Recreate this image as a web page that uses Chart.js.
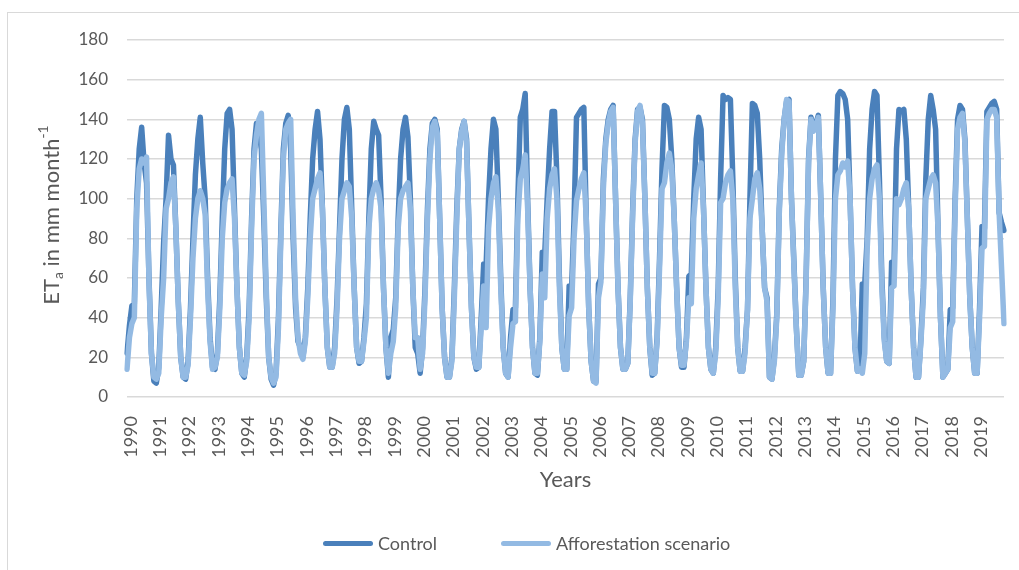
<!DOCTYPE html>
<html>
<head>
<meta charset="utf-8">
<script src="https://cdn.jsdelivr.net/npm/chart.js@4"></script>
<style>
  html, body { margin: 0; padding: 0; background: #fff; overflow: hidden; }
  #wrap { position: relative; width: 1019px; height: 570px; }
  #frame { position: absolute; left: 7px; top: 12px; width: 1030px; height: 600px; border: 1px solid #d9d9d9; box-sizing: border-box; }
  canvas { position: absolute; left: 0; top: 0; }
  #legend { position: absolute; left: 323px; top: 530px; height: 26px; display: flex; align-items: center;
            font-family: Lato, "Open Sans", sans-serif; font-size: 18px; color: #595959; white-space: nowrap; }
  #legend .item { display: flex; align-items: center; }
  #legend .swatch { display: inline-block; width: 50px; height: 5px; border-radius: 3px; margin-right: 5px; }
</style>
</head>
<body>
<div id="wrap">
  <div id="frame"></div>
  <canvas id="etChart" width="1019" height="570"></canvas>
  <div id="legend"></div>
</div>
<script>
// monthly ETa (mm/month), Jan..Dec for each year 1990-2019
var years = [1990, 1991, 1992, 1993, 1994, 1995, 1996, 1997, 1998, 1999,
             2000, 2001, 2002, 2003, 2004, 2005, 2006, 2007, 2008, 2009,
             2010, 2011, 2012, 2013, 2014, 2015, 2016, 2017, 2018, 2019];

var control = [
  22, 36, 46, 47, 100, 125, 136, 118, 108, 60, 22, 8,
  7, 15, 45, 78, 100, 132, 120, 117, 85, 48, 20, 10,
  9, 18, 45, 80, 112, 130, 141, 118, 100, 60, 30, 15,
  14, 22, 50, 90, 125, 143, 145, 135, 95, 55, 25, 12,
  10, 20, 45, 90, 125, 138, 135, 125, 90, 50, 20, 9,
  6, 12, 40, 85, 125, 138, 142, 125, 80, 45, 28, 25,
  20, 30, 55, 90, 120, 135, 144, 130, 95, 55, 25, 15,
  15, 25, 50, 85, 120, 140, 146, 135, 95, 55, 25, 17,
  18, 30, 47, 90, 125, 139, 135, 132, 100, 55, 25, 10,
  30, 34, 50, 90, 120, 135, 141, 131, 100, 55, 25, 22,
  12, 25, 55, 95, 125, 138, 140, 135, 90, 45, 20, 10,
  10, 20, 55, 95, 125, 135, 139, 130, 85, 45, 20, 14,
  15, 40, 67, 66, 100, 125, 140, 135, 100, 60, 25, 12,
  10, 30, 44, 45, 100, 141, 145, 153, 100, 55, 25, 12,
  11, 30, 73, 72, 100, 125, 144, 144, 110, 60, 25, 14,
  14, 56, 55, 90, 141, 143, 145, 146, 90, 45, 18, 8,
  8, 57, 60, 110, 130, 140, 145, 147, 100, 55, 25, 14,
  14, 17, 50, 95, 130, 145, 146, 140, 100, 55, 25, 11,
  12, 30, 70, 115, 147, 146, 140, 120, 90, 55, 25, 15,
  15, 30, 61, 62, 100, 130, 141, 135, 95, 55, 25, 14,
  12, 25, 55, 110, 152, 150, 151, 150, 110, 60, 25, 13,
  13, 25, 44, 100, 148, 147, 143, 120, 85, 55, 50, 10,
  9, 20, 42, 95, 125, 140, 149, 150, 100, 68, 35, 11,
  11, 18, 60, 120, 141, 135, 138, 142, 100, 55, 25, 12,
  12, 50, 120, 152, 154, 153, 150, 140, 100, 55, 25, 13,
  14, 57, 57, 80, 125, 145, 154, 152, 110, 60, 30, 18,
  17, 68, 67, 125, 145, 144, 145, 130, 95, 55, 25, 10,
  10, 30, 55, 110, 140, 152, 145, 135, 85, 40, 10, 12,
  14, 44, 45, 100, 140, 147, 145, 130, 90, 50, 25, 12,
  12, 45, 86, 85, 144, 146, 148, 149, 145, 93, 88, 84
];

var afforestation = [
  14, 30, 37, 40, 95, 115, 120, 118, 121, 58, 22, 10,
  9, 12, 40, 60, 95, 100, 108, 111, 85, 48, 20, 10,
  10, 16, 40, 70, 90, 100, 104, 100, 92, 55, 28, 14,
  15, 20, 45, 80, 98, 105, 108, 110, 90, 55, 25, 12,
  11, 18, 40, 85, 120, 132, 140, 143, 100, 55, 20, 10,
  7, 10, 35, 80, 120, 135, 138, 140, 90, 50, 30, 22,
  19, 28, 50, 80, 100, 105, 110, 113, 95, 55, 25, 15,
  15, 22, 45, 80, 100, 104, 108, 106, 90, 55, 25, 18,
  18, 28, 40, 85, 100, 105, 108, 104, 95, 55, 25, 12,
  22, 28, 45, 85, 100, 104, 106, 108, 95, 55, 30, 30,
  14, 22, 50, 90, 120, 136, 139, 133, 90, 45, 20, 10,
  10, 18, 50, 90, 125, 134, 139, 128, 85, 45, 20, 15,
  15, 35, 56, 35, 85, 100, 108, 111, 95, 55, 25, 12,
  10, 25, 37, 38, 90, 110, 115, 122, 95, 55, 25, 12,
  12, 28, 62, 50, 90, 105, 112, 115, 100, 55, 25, 14,
  14, 41, 45, 80, 99, 105, 110, 113, 90, 45, 18, 8,
  7, 50, 58, 105, 128, 138, 144, 146, 100, 55, 25, 14,
  14, 17, 48, 92, 128, 144, 147, 138, 100, 55, 25, 12,
  12, 28, 65, 105, 108, 118, 123, 115, 90, 55, 25, 16,
  16, 28, 50, 47, 90, 105, 112, 118, 95, 55, 25, 14,
  12, 22, 50, 98, 100, 108, 112, 114, 100, 55, 25, 13,
  13, 22, 44, 90, 100, 110, 113, 105, 85, 55, 48, 10,
  9, 18, 40, 92, 122, 140, 150, 149, 100, 66, 35, 11,
  11, 18, 58, 118, 140, 134, 137, 141, 100, 55, 25, 12,
  12, 45, 100, 112, 114, 118, 116, 119, 100, 55, 25, 13,
  14, 12, 22, 75, 100, 110, 115, 117, 100, 55, 28, 18,
  17, 55, 56, 100, 97, 100, 105, 108, 95, 55, 25, 10,
  10, 28, 50, 100, 105, 110, 112, 108, 85, 40, 10, 12,
  14, 35, 38, 95, 135, 141, 143, 128, 90, 50, 25, 12,
  12, 40, 75, 76, 140, 143, 145, 145, 141, 93, 65, 37
];

var yTicks = [0, 20, 40, 60, 80, 100, 120, 140, 160, 180];

// one category per month, year shown on January only
var labels = [];
years.forEach(function (y) {
  for (var m = 0; m < 12; m++) labels.push(m === 0 ? String(y) : '');
});

var textColor = '#595959';
var gridColor = '#d9d9d9';
var fontFamily = 'Lato, "Open Sans", sans-serif';
var controlColor = '#4a80bb';
var affColor = '#93bae3';

// y title with subscript / superscript
var yTitle = {
  id: 'yTitle',
  afterDraw: function (chart) {
    var ctx = chart.ctx;
    var big = '22px ' + fontFamily, small = '14px ' + fontFamily;
    var parts = [['ET', big, 0], ['a', small, 6], [' in mm month', big, 0], ['-1', small, -9]];
    ctx.save();
    var w = 0;
    parts.forEach(function (p) { ctx.font = p[1]; w += ctx.measureText(p[0]).width; });
    ctx.translate(52, 215);
    ctx.rotate(-Math.PI / 2);
    ctx.fillStyle = textColor;
    ctx.textBaseline = 'middle';
    var x = -w / 2;
    parts.forEach(function (p) {
      ctx.font = p[1];
      ctx.fillText(p[0], x, p[2]);
      x += ctx.measureText(p[0]).width;
    });
    ctx.restore();
  }
};

var ctx = document.getElementById('etChart').getContext('2d');
var etChart = new Chart(ctx, {
  type: 'line',
  data: {
    labels: labels,
    datasets: [
      {
        label: 'Control',
        data: control,
        borderColor: controlColor,
        backgroundColor: controlColor,
        borderWidth: 5.5,
        borderJoinStyle: 'round',
        borderCapStyle: 'round',
        pointRadius: 0,
        tension: 0,
        order: 2
      },
      {
        label: 'Afforestation scenario',
        data: afforestation,
        borderColor: affColor,
        backgroundColor: affColor,
        borderWidth: 5.5,
        borderJoinStyle: 'round',
        borderCapStyle: 'round',
        pointRadius: 0,
        tension: 0,
        order: 1
      }
    ]
  },
  options: {
    responsive: false,
    animation: false,
    layout: { padding: { top: 40, right: 15, bottom: 0, left: 0 } },
    plugins: {
      tooltip: { enabled: false },
      legend: { display: false }
    },
    scales: {
      x: {
        grid: { display: false },
        border: { display: false },
        ticks: {
          autoSkip: false,
          minRotation: 90,
          maxRotation: 90,
          padding: 11,
          labelOffset: 4,
          color: textColor,
          font: { family: fontFamily, size: 18 }
        },
        title: {
          display: true,
          text: 'Years',
          color: textColor,
          font: { family: fontFamily, size: 22 },
          padding: { top: 0, bottom: 77 }
        },
        afterFit: function (scale) {
          scale.height = 173;
          scale.paddingLeft = 0;
          scale.paddingRight = 0;
        }
      },
      y: {
        min: 0,
        max: 180,
        afterBuildTicks: function (scale) {
          scale.ticks = yTicks.map(function (v) { return { value: v }; });
        },
        grid: { color: gridColor, lineWidth: 1.5, drawTicks: false },
        border: { display: false },
        ticks: {
          padding: 19,
          color: textColor,
          font: { family: fontFamily, size: 17 }
        },
        afterFit: function (scale) { scale.width = 127; }
      }
    }
  },
  plugins: [yTitle]
});

// legend as real text under the chart
var legendEl = document.getElementById('legend');
etChart.data.datasets.forEach(function (ds, i) {
  var item = document.createElement('span');
  item.className = 'item';
  if (i > 0) item.style.marginLeft = '64px';
  var sw = document.createElement('span');
  sw.className = 'swatch';
  sw.style.background = ds.borderColor;
  item.appendChild(sw);
  item.appendChild(document.createTextNode(ds.label));
  legendEl.appendChild(item);
});
</script>
</body>
</html>
